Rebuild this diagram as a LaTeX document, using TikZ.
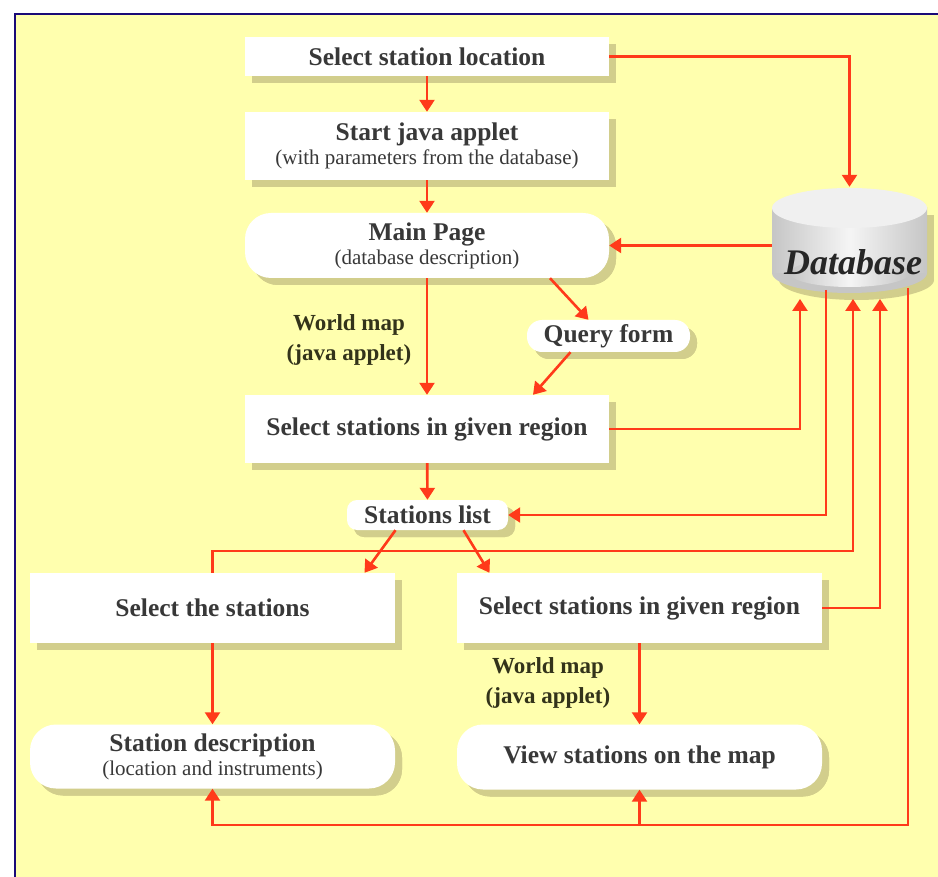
\documentclass[tikz,border=0pt]{standalone}
\usepackage{fontspec}
\setmainfont{Liberation Serif}
\usetikzlibrary{arrows.meta,shadows}

\definecolor{bgyellow}{HTML}{FFFFAE}
\definecolor{framecol}{HTML}{1A0A78}
\definecolor{shadecol}{HTML}{D2CE8C}
\definecolor{flowcol}{HTML}{FF3A1A}
\definecolor{txtcol}{HTML}{383838}
\definecolor{lblcol}{HTML}{33331A}

\newcommand\bigtxt{\fontsize{25.5}{27}\selectfont\bfseries}
\newcommand\smalltxt{\fontsize{21}{23}\selectfont\mdseries}
\newcommand\lbltxt{\fontsize{23}{30}\selectfont\bfseries}

\tikzset{
  box/.style={fill=white, draw=none, text=txtcol, align=center, inner sep=0pt,
    drop shadow={shadow xshift=7pt, shadow yshift=-7pt, fill=shadecol, opacity=1}},
  stepbox/.style={box, minimum width=364pt, minimum height=#1},
  pill/.style={box, rounded corners=#1},
  flow/.style={draw=flowcol, line width=2.6pt,
    -{Triangle[width=15pt,length=12pt]}},
  link/.style={draw=flowcol, line width=2.6pt},
  lbl/.style={text=lblcol, align=center, font=\lbltxt, inner sep=0pt}
}

\begin{document}
\begin{tikzpicture}[x=1pt,y=-1pt]
  % page and frame
  \useasboundingbox (0,0) rectangle (938,877);
  \fill[white] (0,0) rectangle (938,877);
  \fill[bgyellow] (15,14) rectangle (938,877);
  \draw[framecol, line width=2pt] (15,877) -- (15,14) -- (938,14);

  % database cylinder
  \fill[shadecol] (779,215) rectangle (934,280);
  \fill[shadecol] (856.5,280) ellipse [x radius=77.5, y radius=20];
  \fill[gray!45] (849.5,273) ellipse [x radius=77.5, y radius=20];
  \shade[left color=gray!45, right color=gray!45, middle color=gray!8]
    (772,208) rectangle (927,273);
  \shade[left color=gray!45, right color=gray!45, middle color=gray!8]
    (849.5,273) ellipse [x radius=60, y radius=14];
  \fill[gray!12] (849.5,208) ellipse [x radius=77.5, y radius=20];
  \node[minimum width=155pt, minimum height=106pt, inner sep=0pt] (db) at (849.5,240) {};
  \node[text=black!85, font=\fontsize{36}{38}\selectfont\bfseries\itshape, inner sep=0pt]
    (dbtext) at (853,262) {Database};

  % nodes
  \node[stepbox=39pt] (loc) at (427,56.5) {\bigtxt Select station location};
  \node[stepbox=68pt] (applet) at (427,146)
    {{\bigtxt Start java applet}\\[3pt]{\smalltxt (with parameters from the database)}};
  \node[stepbox=65pt, pill=26pt] (main) at (427,245.5)
    {{\bigtxt Main Page}\\[3pt]{\smalltxt (database description)}};
  \node[box, pill=15pt, minimum width=163pt, minimum height=32pt] (query) at (608.5,336)
    {\bigtxt Query form};
  \node[stepbox=68pt] (region) at (427,429) {\bigtxt Select stations in given region};
  \node[box, pill=10pt, minimum width=161pt, minimum height=30pt] (list) at (427.5,515)
    {\bigtxt Stations list};
  \node[box, minimum width=365pt, minimum height=70pt] (selst) at (212.5,608)
    {\bigtxt Select the stations};
  \node[box, minimum width=365pt, minimum height=70pt] (selreg) at (639.5,608)
    {\bigtxt Select stations in given region};
  \node[box, pill=26pt, minimum width=365pt, minimum height=64pt] (desc) at (212.5,756.5)
    {{\bigtxt Station description}\\[3pt]{\smalltxt (location and instruments)}};
  \node[box, pill=26pt, minimum width=365pt, minimum height=65pt] (view) at (639.5,757)
    {\bigtxt View stations on the map};

  \node[lbl] (wm1) at (349,340) {World map\\(java applet)};
  \node[lbl] (wm2) at (548,683) {World map\\(java applet)};

  % junction points along the database bottom and the bottom bus
  \coordinate (d1) at (800,299);
  \coordinate (d2) at (826,290);
  \coordinate (d3) at (853,299);
  \coordinate (d4) at (880,299);
  \coordinate (d5) at (908,288);
  \coordinate (j3) at (853,551);
  \coordinate (b1) at (212.5,825);
  \coordinate (b2) at (639.5,825);

  % connectors
  \draw[flow] (loc) -- (applet);
  \draw[flow] (applet) -- (main);
  \draw[flow] (loc.east) -| (db.north);
  \draw[flow] (db.west |- main.east) -- (main.east);
  \draw[flow] ([xshift=123pt]main.south) -- ([xshift=-20pt]query.north);
  \draw[flow] ([xshift=-38pt]query.south) -- ([xshift=106pt]region.north);
  \draw[flow] (main) -- (region);
  \draw[flow] (region.east) -| (d1);
  \draw[flow] (region) -- (list);
  \draw[flow] (d2) |- (list.east);
  \draw[flow] (selst.north) |- (j3) -- (d3);
  \draw[flow] ([xshift=-32pt]list.south) -- ([xshift=152pt]selst.north);
  \draw[flow] ([xshift=36pt]list.south) -- ([xshift=-150pt]selreg.north);
  \draw[flow] (selreg.east) -| (d4);
  \draw[flow] (selst) -- (desc);
  \draw[flow] (selreg) -- (view);
  \draw[flow] (d5) |- (b1) -- (desc.south);
  \draw[flow] (b2) -- (view.south);
\end{tikzpicture}
\end{document}
